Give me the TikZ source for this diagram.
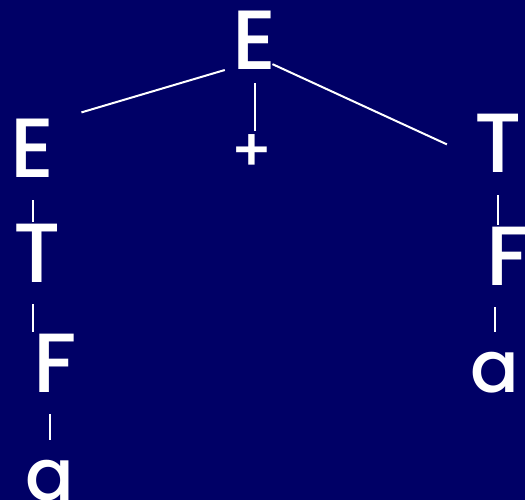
\documentclass[tikz,border=0pt]{standalone}
\usepackage{fontspec}
\setmainfont{Poppins}[UprightFont={* Medium}]
\usetikzlibrary{positioning,calc}
\definecolor{slidebg}{RGB}{0,0,102}

\begin{document}
\begin{tikzpicture}[x=1pt,y=-1pt,
    sym/.style={text=white,inner sep=0pt,minimum width=60pt,text height=60pt,text depth=22pt,anchor=base,font=\fontsize{84}{90}\selectfont},
    small/.style={font=\fontsize{72}{80}\selectfont},
    op/.style={text=white,inner sep=0pt,font=\fontsize{60}{60}\selectfont},
    edge/.style={white,line width=2pt}]
  \fill[slidebg] (0,0) rectangle (525,500);
  \useasboundingbox (0,0) rectangle (525,500);
  % parse tree for a+a
  \node[sym] (root) at (255,70) {E};
  \node[sym] (eL) at (33,178) {E};
  \node[op] (plus) at (252,153) {+};
  \node[sym] (tR) at (498,173) {T};
  \node[sym] (tL) at (37,282) {T};
  \node[sym] (fR) at (508,285) {F};
  \node[sym] (fL) at (55,392) {F};
  \node[sym,small] (aR) at (495,392) {a};
  \node[sym,small] (aL) at (50,500) {a};
  \draw[edge,shorten >=19pt] (root.base west) -- (eL.north east);
  \draw[edge,shorten <=-9pt,shorten >=3pt] (root.south) -- (root.south |- plus.north);
  \draw[edge,shorten <=-14pt,shorten >=23pt] (root.base east) -- (tR.west);
  \draw[edge] (eL.south) -- (eL.south |- tL.north);
  \draw[edge] (eL.south |- tL.south) -- (eL.south |- fL.north);
  \draw[edge] (aL.north |- fL.south) -- (aL.north);
  \draw[edge] (tR.south) -- (tR.south |- fR.north);
  \draw[edge] (aR.north |- fR.south) -- (aR.north);
\end{tikzpicture}
\end{document}
